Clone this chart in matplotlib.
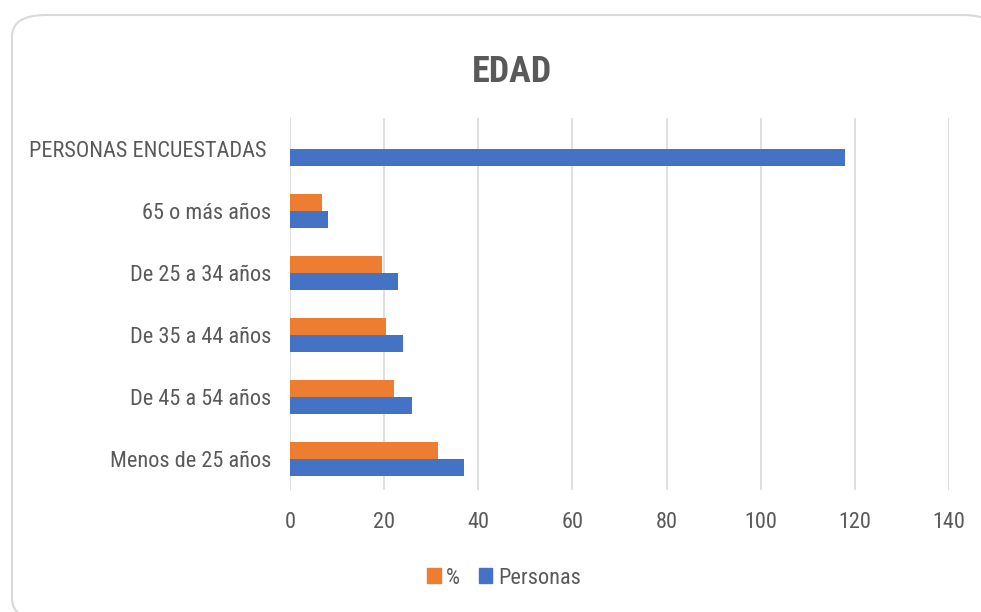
import matplotlib.pyplot as plt
from matplotlib import font_manager
from matplotlib.patches import FancyBboxPatch, Patch
import numpy as np

categorias = ['Menos de 25 años', 'De 45 a 54 años', 'De 35 a 44 años',
              'De 25 a 34 años', '65 o más años', 'PERSONAS ENCUESTADAS ']
personas = [37, 26, 24, 23, 8, 118]
porcentaje = [31.4, 22.0, 20.3, 19.5, 6.8, 0]
xticks = [0, 20, 40, 60, 80, 100, 120, 140]

# narrow font if there is one, like Calibri in the original
nombres = {f.name for f in font_manager.fontManager.ttflist}
fuente = 'Liberation Sans'
for cand in ['Liberation Sans Narrow', 'Roboto Condensed', 'Open Sans Condensed',
             'DejaVu Sans Condensed']:
    if cand in nombres:
        fuente = cand
        break
plt.rcParams['font.family'] = [fuente, 'DejaVu Sans']

gris = '#595959'
naranja = '#ed7d31'
azul = '#4472c4'

fig = plt.figure(figsize=(9.81, 6.12), dpi=100)

# card behind the chart
card = FancyBboxPatch((12 / 981, 1 - 620 / 612), 985 / 981, 605 / 612,
                      boxstyle='round,pad=0,rounding_size=0.035',
                      transform=fig.transFigure, facecolor='white',
                      edgecolor='#d9d9d9', linewidth=1.5, zorder=-5)
fig.patches.append(card)

ax = fig.add_axes([290 / 981, 1 - 490 / 612, (949 - 290) / 981, (490 - 118) / 612])
ax.set_facecolor('none')
ax.set_zorder(2)

y = np.arange(len(categorias))
h = 0.27
ax.barh(y + h / 2, porcentaje, height=h, color=naranja, label='%', zorder=3)
ax.barh(y - h / 2, personas, height=h, color=azul, label='Personas', zorder=3)

ax.set_xlim(0, 140)
ax.set_ylim(-0.5, len(categorias) - 0.5)
ax.set_xticks(xticks)
ax.set_yticks(y)
ax.set_yticklabels(categorias)
ax.grid(axis='x', color='#d9d9d9', linewidth=1.2, zorder=0)
ax.set_axisbelow(True)
for s in ax.spines.values():
    s.set_visible(False)
ax.tick_params(axis='both', length=0, labelsize=16, labelcolor=gris)
ax.tick_params(axis='x', pad=16)
ax.tick_params(axis='y', pad=13.5)

fig.text(512 / 981, 1 - 72 / 612, 'EDAD', ha='center', va='center',
         fontsize=26, fontweight='bold', color=gris)

leg = fig.legend(handles=[Patch(color=naranja, label='%'), Patch(color=azul, label='Personas')],
                 loc='center', bbox_to_anchor=(504 / 981, 1 - 578 / 612), ncol=2,
                 frameon=False, fontsize=16, handlelength=0.6, handleheight=0.64,
                 handletextpad=0.25, columnspacing=0.85)
for t in leg.get_texts():
    t.set_color(gris)

fig.savefig('out.png', dpi=100)
